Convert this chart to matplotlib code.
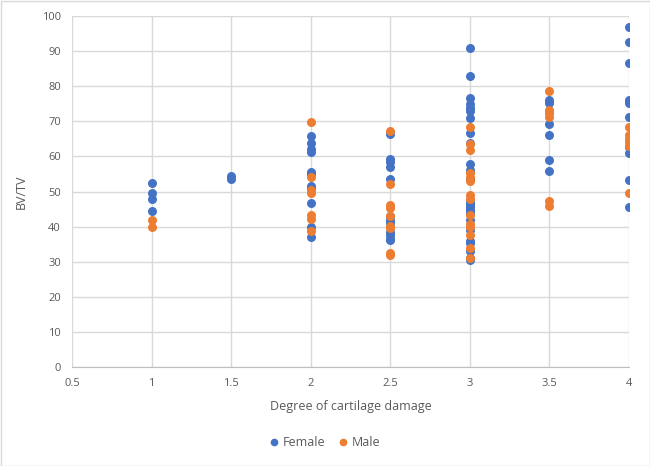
import matplotlib
matplotlib.use("Agg")
import matplotlib.pyplot as plt
from matplotlib.patches import Rectangle

# Data
female_x = ([1]*4 + [1.5]*2 + [2]*11 + [2.5]*12 + [3]*26 + [3.5]*6 + [4]*10)
female_y = ([52.5, 49.5, 48.0, 44.5] +
            [54.5, 53.5] +
            [65.8, 63.7, 62.0, 61.3, 55.6, 55.0, 51.6, 51.0, 46.8, 40.0, 37.1] +
            [66.5, 59.4, 58.5, 56.9, 53.7, 43.0, 41.9, 41.0, 38.5, 37.5, 36.6, 36.2] +
            [90.9, 83.0, 76.6, 74.9, 73.8, 72.9, 70.9, 66.7, 63.8, 57.8, 56.1, 53.5,
             47.0, 46.0, 45.0, 44.0, 42.0, 39.0, 36.0, 35.2, 33.0, 31.0, 30.5, 45.5, 46.5, 44.5] +
            [76.2, 75.1, 69.2, 66.1, 59.1, 55.8] +
            [96.9, 92.7, 86.7, 76.1, 75.3, 71.1, 62.8, 61.1, 53.3, 45.5])

male_x = ([1]*2 + [2]*7 + [2.5]*9 + [3]*14 + [3.5]*6 + [4]*6)
male_y = ([42.0, 40.0] +
          [69.8, 54.0, 50.5, 49.7, 43.2, 42.3, 38.7] +
          [67.3, 52.1, 46.1, 45.2, 43.0, 40.2, 39.5, 32.5, 32.0] +
          [68.5, 63.5, 61.8, 55.3, 54.1, 53.0, 49.0, 48.0, 43.2, 40.8, 39.8,
           37.5, 34.0, 31.0] +
          [78.6, 73.2, 72.3, 71.3, 47.4, 46.0] +
          [68.4, 66.1, 64.9, 64.0, 63.0, 49.7])

x_ticks = [0.5, 1, 1.5, 2, 2.5, 3, 3.5, 4]
x_tick_labels = ["0.5", "1", "1.5", "2", "2.5", "3", "3.5", "4"]
y_ticks = list(range(0, 101, 10))

plt.rcParams['font.family'] = ['Open Sans', 'DejaVu Sans']

W, H = 650, 466
fig = plt.figure(figsize=(W/100, H/100), dpi=100)
ax = fig.add_axes([72/W, 1 - 367/H, (629-72)/W, (367-16)/H])

grid_c = "#d9d9d9"
text_c = "#595959"

ax.scatter(female_x, female_y, s=42, color="#4472C4", zorder=3, linewidths=0, label="Female")
ax.scatter(male_x, male_y, s=42, color="#ED7D31", zorder=4, linewidths=0, label="Male")

ax.set_xlim(0.5, 4)
ax.set_ylim(0, 100)
ax.set_xticks(x_ticks)
ax.set_xticklabels(x_tick_labels)
ax.set_yticks(y_ticks)
ax.grid(True, color=grid_c, linewidth=1, zorder=0)
ax.set_axisbelow(True)
for s in ["top", "right", "left"]:
    ax.spines[s].set_visible(False)
ax.spines["bottom"].set_color("#bfbfbf")
ax.tick_params(axis="both", length=0, colors=text_c, labelsize=8, pad=8)

ax.set_xlabel("Degree of cartilage damage", color=text_c, fontsize=9, labelpad=8)
ax.set_ylabel("BV/TV", color=text_c, fontsize=9, labelpad=10)

leg = fig.legend(loc="center", bbox_to_anchor=(325/W, 1 - 442/H), ncol=2, frameon=False,
                 fontsize=9, handlelength=0.8, handletextpad=0.3, columnspacing=1.0,
                 markerscale=0.85)
for t in leg.get_texts():
    t.set_color(text_c)

fig.patches.append(Rectangle((0.5/W, 0.5/H), 1 - 1/W, 1 - 1/H, transform=fig.transFigure,
                             fill=False, edgecolor="#d9d9d9", linewidth=1))

fig.savefig("out.png", dpi=100, facecolor="white")
